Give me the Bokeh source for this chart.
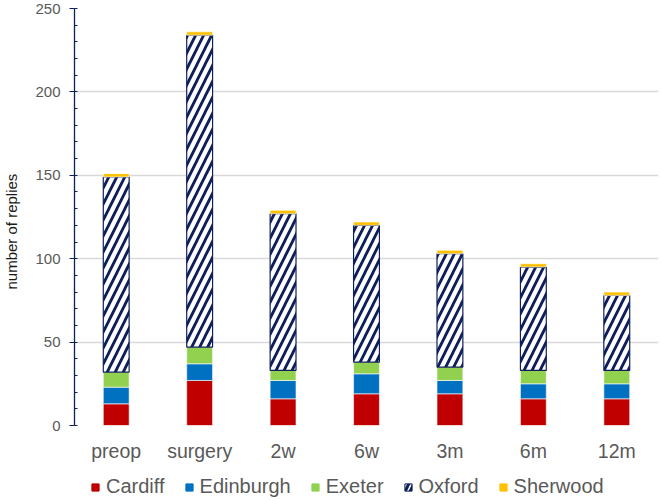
from bokeh.plotting import figure
from bokeh.layouts import column
from bokeh.models import (ColumnDataSource, Legend, LegendItem,
                          SingleIntervalTicker)
from bokeh.transform import stack
from bokeh.embed import file_html
from bokeh.resources import INLINE

categories = ["preop", "surgery", "2w", "6w", "3m", "6m", "12m"]
cardiff = [13, 27, 16, 19, 19, 16, 16]
edinburgh = [10, 10, 11, 12, 8, 9, 9]
exeter = [9, 10, 6, 7, 8, 8, 8]
oxford = [117, 187, 94, 82, 68, 62, 45]
sherwood = [2, 2, 2, 2, 2, 2, 2]
sites = ["Cardiff", "Edinburgh", "Exeter", "Oxford", "Sherwood"]
colors = ["#C00000", "#0070C0", "#92D050", "#FFFFFF", "#FFC000"]
y_label = "number of replies"

source = ColumnDataSource(dict(cat=categories, Cardiff=cardiff, Edinburgh=edinburgh,
                               Exeter=exeter, Oxford=oxford, Sherwood=sherwood))

FONT = "Liberation Sans"
NAVY = "#0E1F5B"

p = figure(x_range=categories, y_range=(0, 250), width=661, height=475,
           output_backend="svg", toolbar_location=None,
           min_border_left=74, min_border_right=3, min_border_top=8,
           min_border_bottom=50)
p.outline_line_color = None
p.background_fill_color = "white"
p.border_fill_color = "white"

for i, s in enumerate(sites):
    kw = dict(x="cat", width=0.31, source=source,
              bottom=stack(*sites[:i]), top=stack(*sites[:i + 1]),
              fill_color=colors[i])
    if s == "Oxford":
        kw.update(line_color=NAVY, line_width=1.2,
                  hatch_pattern="right_diagonal_line", hatch_color=NAVY,
                  hatch_scale=16, hatch_weight=2.8)
    else:
        kw.update(line_color="white", line_width=0.6)
    p.vbar(**kw)

# y axis
p.yaxis.ticker = SingleIntervalTicker(interval=50, num_minor_ticks=5)
p.yaxis.axis_line_color = NAVY
p.yaxis.axis_line_width = 1.3
p.yaxis.major_tick_line_color = NAVY
p.yaxis.minor_tick_line_color = NAVY
p.yaxis.major_tick_out = 5
p.yaxis.major_tick_in = 0
p.yaxis.minor_tick_in = 3
p.yaxis.minor_tick_out = 0
p.yaxis.major_label_standoff = 9
p.yaxis.major_label_text_font = FONT
p.yaxis.major_label_text_font_size = "15px"
p.yaxis.major_label_text_color = "#595959"
p.yaxis.axis_label = y_label + "\u00a0" * 7
p.yaxis.axis_label_standoff = 12
p.yaxis.axis_label_text_font = FONT
p.yaxis.axis_label_text_font_size = "15px"
p.yaxis.axis_label_text_font_style = "normal"
p.yaxis.axis_label_text_color = "#1A1A1A"

# x axis
p.xaxis.axis_line_color = None
p.xaxis.major_tick_line_color = None
p.xaxis.minor_tick_line_color = None
p.xaxis.major_tick_out = 0
p.xaxis.major_label_standoff = 14
p.xaxis.major_label_text_font = FONT
p.xaxis.major_label_text_font_size = "19.5px"
p.xaxis.major_label_text_color = "#595959"

p.xgrid.grid_line_color = None
p.ygrid.grid_line_color = "#D9D9D9"
p.ygrid.grid_line_width = 1.5

# legend strip
pl = figure(width=661, height=25, x_range=(0, 661), y_range=(0, 25),
            output_backend="svg", toolbar_location=None,
            min_border_left=0, min_border_right=0, min_border_top=0,
            min_border_bottom=0)
pl.axis.visible = False
pl.grid.visible = False
pl.outline_line_color = None
pl.border_fill_color = "white"

items = []
for i, s in enumerate(sites):
    kw = dict(marker="square", fill_color=colors[i])
    if s == "Oxford":
        kw.update(line_color=NAVY, line_width=1, hatch_pattern="right_diagonal_line",
                  hatch_color=NAVY, hatch_scale=10, hatch_weight=3)
    else:
        kw.update(line_color=colors[i])
    r = pl.scatter(x=[-100], y=[-100], **kw)
    items.append(LegendItem(label=s, renderers=[r]))

legend = Legend(items=items, orientation="horizontal", location=(12, 2),
                glyph_width=18, glyph_height=22, label_standoff=2, spacing=15,
                padding=0, margin=0, label_text_font=FONT,
                label_text_font_size="20px", label_text_color="#595959",
                background_fill_alpha=0, border_line_color=None)
pl.add_layout(legend)

layout = column(p, pl, spacing=0)
open("out.html", "w").write(file_html(layout, INLINE))
